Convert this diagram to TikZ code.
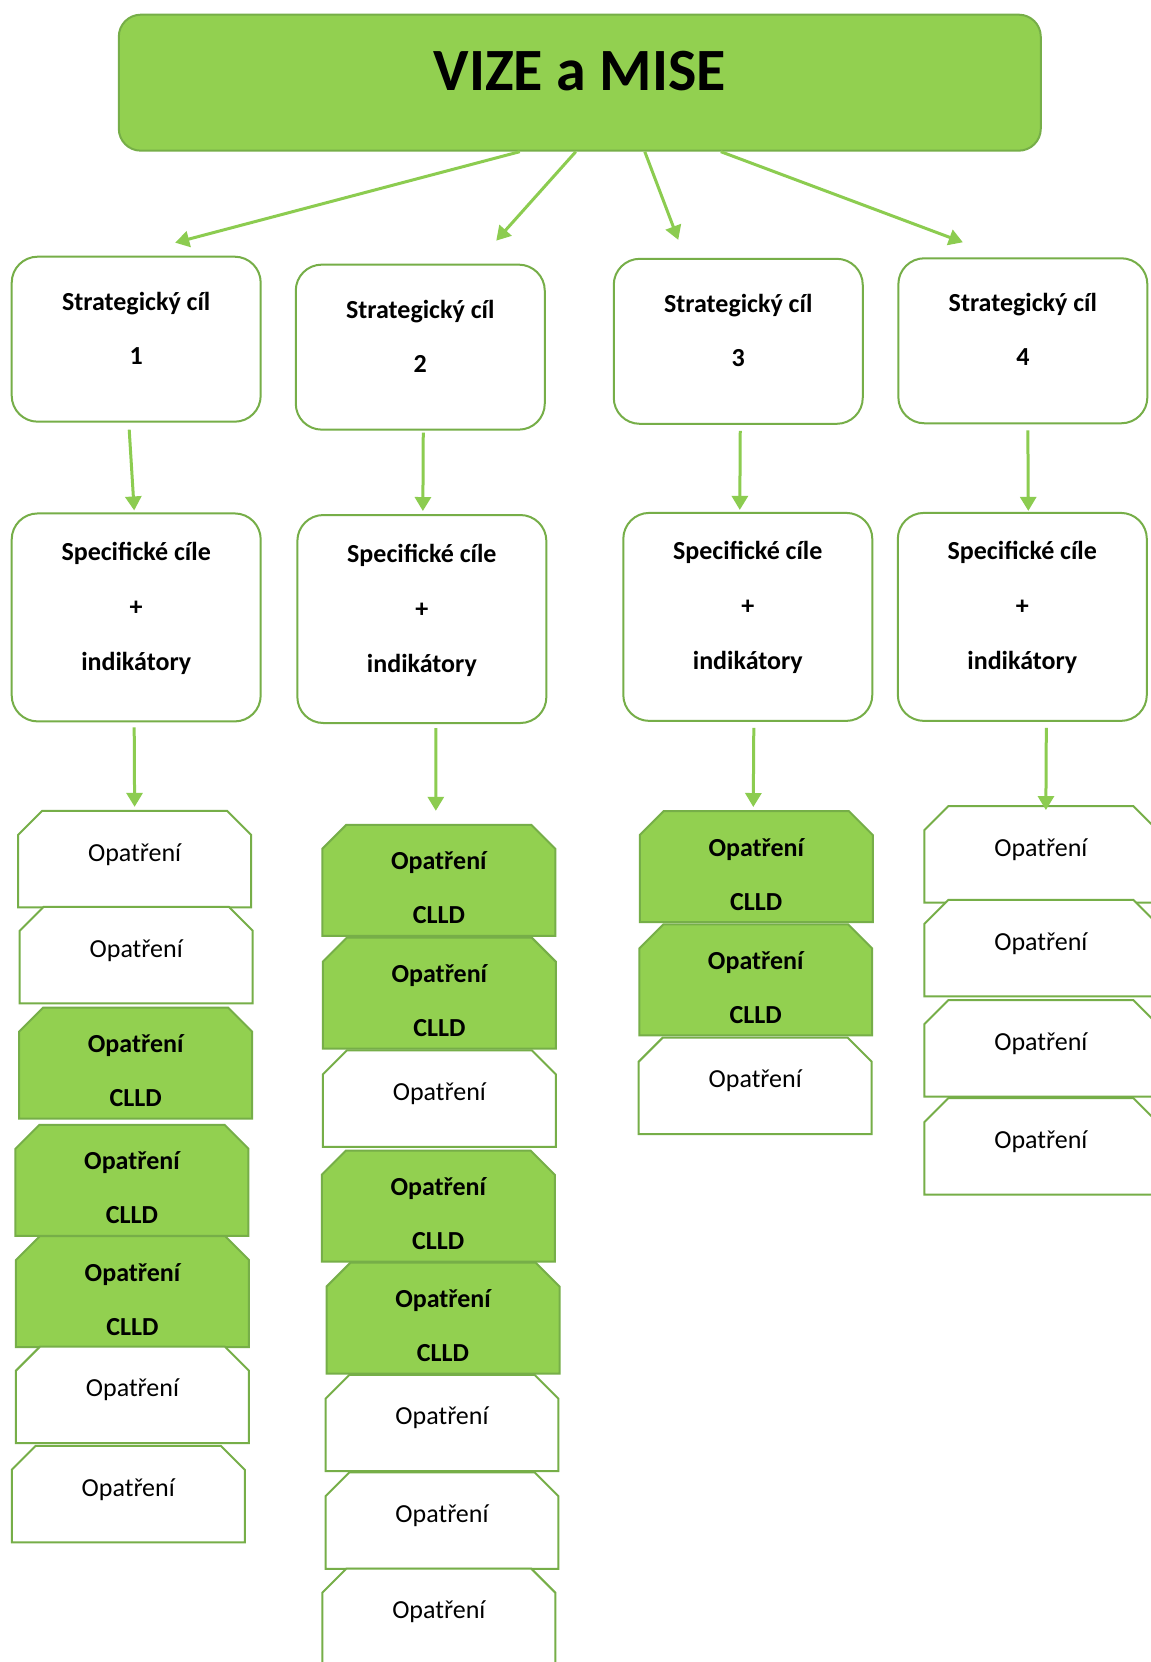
\documentclass[tikz,border=0pt]{standalone}
\usepackage{fontspec}
\setmainfont{Carlito}
\usepackage{tikz}
\usetikzlibrary{positioning, shapes.misc, arrows.meta}

\definecolor{fillgreen}{RGB}{146,208,80}
\definecolor{linegreen}{RGB}{118,174,72}
\definecolor{arrowgreen}{RGB}{140,204,80}

% two lines in a green box, first baseline fixed from the top
\newcommand{\clldlines}[2]{\parbox[c][87pt][t]{200pt}{\centering\rule{0pt}{33pt}#1\\#2}}

\tikzset{
  arr/.style={-{Triangle[length=14pt,width=16pt]}, line width=3pt, draw=arrowgreen},
  vizebox/.style={rectangle, rounded corners=22pt, fill=fillgreen, draw=linegreen, line width=2pt,
    minimum width=922pt, minimum height=136pt,
    font=\fontsize{60}{72}\selectfont\bfseries, text height=45pt, text depth=30pt},
  cilbox/.style={rectangle, rounded corners=26pt, draw=linegreen, line width=2pt, fill=white,
    minimum width=249pt, minimum height=165pt, align=center,
    font=\fontsize{26}{54}\selectfont\bfseries, text height=70pt, text depth=20pt},
  specbox/.style={cilbox, minimum height=208pt,
    font=\fontsize{26}{55}\selectfont\bfseries, text height=125pt, text depth=19pt},
  opatbase/.style={chamfered rectangle, chamfered rectangle corners={north west,north east},
    chamfered rectangle xsep=12pt, chamfered rectangle ysep=12pt,
    draw=linegreen, line width=2pt, minimum width=233pt},
  opat/.style={opatbase, fill=white, minimum height=96.5pt,
    font=\fontsize{26}{31}\selectfont, text height=20pt, text depth=16pt},
  opatclld/.style={opatbase, fill=fillgreen, minimum height=111pt, inner sep=0pt,
    font=\fontsize{26}{54}\selectfont\bfseries},
}

\begin{document}
\begin{tikzpicture}[x=1.06pt, y=-1.06pt]
  \fill[white] (0,0) rectangle (1085,1568);
  \useasboundingbox (0,0) rectangle (1085,1568);

  % vize
  \node[vizebox] (vize) at (547,78) {VIZE a MISE};

  % strategicke cile
  \node[cilbox] (s1) at (128.5,320) {Strategický cíl\\1};
  \node[cilbox] (s2) at (396.5,327.5) {Strategický cíl\\2};
  \node[cilbox] (s3) at (696.5,322) {Strategický cíl\\3};
  \node[cilbox] (s4) at (965,321.5) {Strategický cíl\\4};

  % specificke cile
  \node[specbox] (sp1) at (128.5,582.5) {Specifické cíle\\+\\indikátory};
  \node[specbox] (sp2) at (398,584) {Specifické cíle\\+\\indikátory};
  \node[specbox] (sp3) at (705.5,582) {Specifické cíle\\+\\indikátory};
  \node[specbox] (sp4) at (964.5,582) {Specifické cíle\\+\\indikátory};

  % opatreni, sloupec 1
  \node[opat] (o11) at (127,810.5) {Opatření};
  \node[opat] (o12) at (128.5,901) {Opatření};
  \node[opatclld] (o13) at (128,1003) {\clldlines{Opatření}{CLLD}};
  \node[opatclld] (o14) at (124.5,1113.5) {\clldlines{Opatření}{CLLD}};
  \node[opatclld] (o15) at (125,1218.5) {\clldlines{Opatření}{CLLD}};
  \node[opat] (o16) at (125,1316) {Opatření};
  \node[opat] (o17) at (121,1409.5) {Opatření};

  % sloupec 2
  \node[opatclld] (o21) at (414,830.5) {\clldlines{Opatření}{CLLD}};
  \node[opatclld] (o22) at (414.5,937) {\clldlines{Opatření}{CLLD}};
  \node[opat] (o23) at (414.5,1036.5) {Opatření};
  \node[opatclld] (o24) at (413.5,1138) {\clldlines{Opatření}{CLLD}};
  \node[opatclld] (o25) at (418,1243.5) {\clldlines{Opatření}{CLLD}};
  \node[opat] (o26) at (417,1342.5) {Opatření};
  \node[opat] (o27) at (417,1434.5) {Opatření};
  \node[opat] (o28) at (414,1525.5) {Opatření};

  % sloupec 3
  \node[opatclld] (o31) at (713.5,817.5) {\clldlines{Opatření}{CLLD}};
  \node[opatclld] (o32) at (713,924.5) {\clldlines{Opatření}{CLLD}};
  \node[opat] (o33) at (712.5,1024.5) {Opatření};

  % sloupec 4
  \node[opat] (o41) at (982,806) {Opatření};
  \node[opat] (o42) at (982,894.5) {Opatření};
  \node[opat] (o43) at (982,989) {Opatření};
  \node[opat] (o44) at (982,1081.5) {Opatření};

  % sipky z vize
  \draw[arr] ([xshift=-60pt]vize.south) -- ([xshift=39pt,yshift=13pt]s1.north);
  \draw[arr] ([xshift=-4pt]vize.south) -- ([xshift=76pt,yshift=23pt]s2.north);
  \draw[arr] ([xshift=65pt]vize.south) -- ([xshift=-60pt,yshift=18pt]s3.north);
  \draw[arr] ([xshift=141pt]vize.south) -- ([xshift=-60pt,yshift=15pt]s4.north);

  % sipky k specifickym cilum
  \draw[arr] ([xshift=-7pt,yshift=-7pt]s1.south) -- ([xshift=-2pt,yshift=2pt]sp1.north);
  \draw[arr] ([xshift=3pt,yshift=-2pt]s2.south) -- ([xshift=1pt,yshift=3pt]sp2.north);
  \draw[arr] ([xshift=2pt,yshift=-6pt]s3.south) -- ([xshift=-8pt,yshift=2pt]sp3.north);
  \draw[arr] ([xshift=5pt,yshift=-6pt]s4.south) -- ([xshift=6pt,yshift=1pt]sp4.north);

  % sipky k opatrenim
  \draw[arr] ([xshift=-2pt,yshift=-5pt]sp1.south) -- ([yshift=3pt]o11.north);
  \draw[arr] ([xshift=14pt,yshift=-4pt]sp2.south) -- ([xshift=-3pt,yshift=13pt]o21.north);
  \draw[arr] ([xshift=6pt,yshift=-6pt]sp3.south) -- ([xshift=-3pt,yshift=3pt]o31.north);
  \draw[arr] ([xshift=24pt,yshift=-6pt]sp4.south) -- ([xshift=5pt,yshift=-5pt]o41.north);
\end{tikzpicture}
\end{document}
